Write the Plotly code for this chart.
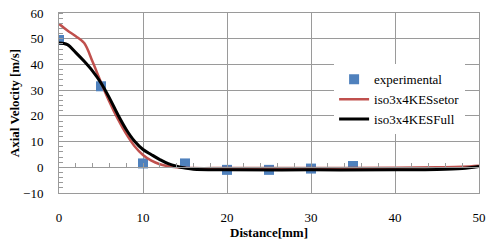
import plotly.graph_objects as go

# Data
exp_x = [0, 5, 10, 15, 20, 25, 30, 35]
exp_y = [49.5, 31.5, 1.5, 1.5, -1.0, -1.0, -0.5, 0.5]

setor_x = [0, 1, 2, 3, 4, 5, 6, 7, 8, 9, 10, 11, 12, 13, 14, 16, 20, 30, 40, 45, 48, 50]
setor_y = [55.8, 53.2, 51.0, 48.3, 41.0, 33.0, 25.5, 18.8, 13.0, 8.2, 4.8, 2.6, 1.2, 0.4, 0.0,
           -0.3, -0.3, -0.3, -0.2, 0.0, 0.2, 0.6]

full_x = [0, 1, 2, 3, 4, 5, 6, 7, 8, 9, 10, 11, 12, 13, 14, 15, 16, 20, 30, 40, 45, 48, 50]
full_y = [48.3, 47.7, 44.6, 41.2, 37.4, 32.8, 27.0, 20.5, 14.7, 10.1, 6.9, 4.9, 3.0, 1.4, 0.4,
          -0.3, -0.8, -1.0, -1.0, -1.0, -0.9, -0.5, 0.3]

x_ticks = [0, 10, 20, 30, 40, 50]
y_ticks = [-10, 0, 10, 20, 30, 40, 50, 60]

GRID = "#9a9a9a"
FONT = "Liberation Serif"

fig = go.Figure()
fig.add_trace(go.Scatter(x=exp_x, y=exp_y, mode="markers", name="experimental",
                         marker=dict(symbol="square", size=10, color="#4f81bd")))
fig.add_trace(go.Scatter(x=setor_x, y=setor_y, mode="lines", name="iso3x4KESsetor",
                         line=dict(color="#c0504d", width=2.5, shape="spline")))
fig.add_trace(go.Scatter(x=full_x, y=full_y, mode="lines", name="iso3x4KESFull",
                         xaxis="x2",
                         line=dict(color="#000000", width=3, shape="spline")))

fig.update_layout(
    width=492, height=243,
    margin=dict(l=59, r=13, t=13, b=50),
    paper_bgcolor="white", plot_bgcolor="white",
    font=dict(family=FONT, size=13, color="#000000"),
    showlegend=True,
    legend=dict(x=0.655, y=0.715, xanchor="left", yanchor="top",
                bgcolor="white", borderwidth=0,
                font=dict(family=FONT, size=13), tracegroupgap=0, itemwidth=30),
    xaxis=dict(range=[0, 50], tickvals=x_ticks, showgrid=True, gridcolor=GRID, gridwidth=1,
               showline=True, linecolor=GRID, mirror=True, zeroline=False, ticks="",
               ticklabelstandoff=12, automargin=False,
               title=dict(text="<b>Distance[mm]</b>", font=dict(family=FONT, size=13), standoff=0)),
    xaxis2=dict(range=[0, 50], overlaying="x", anchor="free", position=1/7,
                tickvals=x_ticks, showticklabels=False, showgrid=False, zeroline=False,
                showline=True, linecolor=GRID, ticks="inside", ticklen=0, tickcolor=GRID,
                automargin=False,
                minor=dict(dtick=2, tick0=0, ticks="inside", ticklen=4, tickcolor=GRID)),
    yaxis=dict(range=[-10, 60], tickvals=y_ticks, showgrid=True, gridcolor=GRID, gridwidth=1,
               showline=True, linecolor=GRID, mirror=True, zeroline=False,
               ticks="", ticklabelstandoff=12, automargin=False,
               minor=dict(dtick=2, tick0=0, ticks="inside", ticklen=4, tickcolor=GRID),
               title=dict(text="<b>Axial Velocity [m/s]</b>", font=dict(family=FONT, size=13), standoff=0)),
)

fig.write_html("out.html", config={"displayModeBar": False},
               post_script="document.body.style.margin='0';document.body.style.overflow='hidden';")
